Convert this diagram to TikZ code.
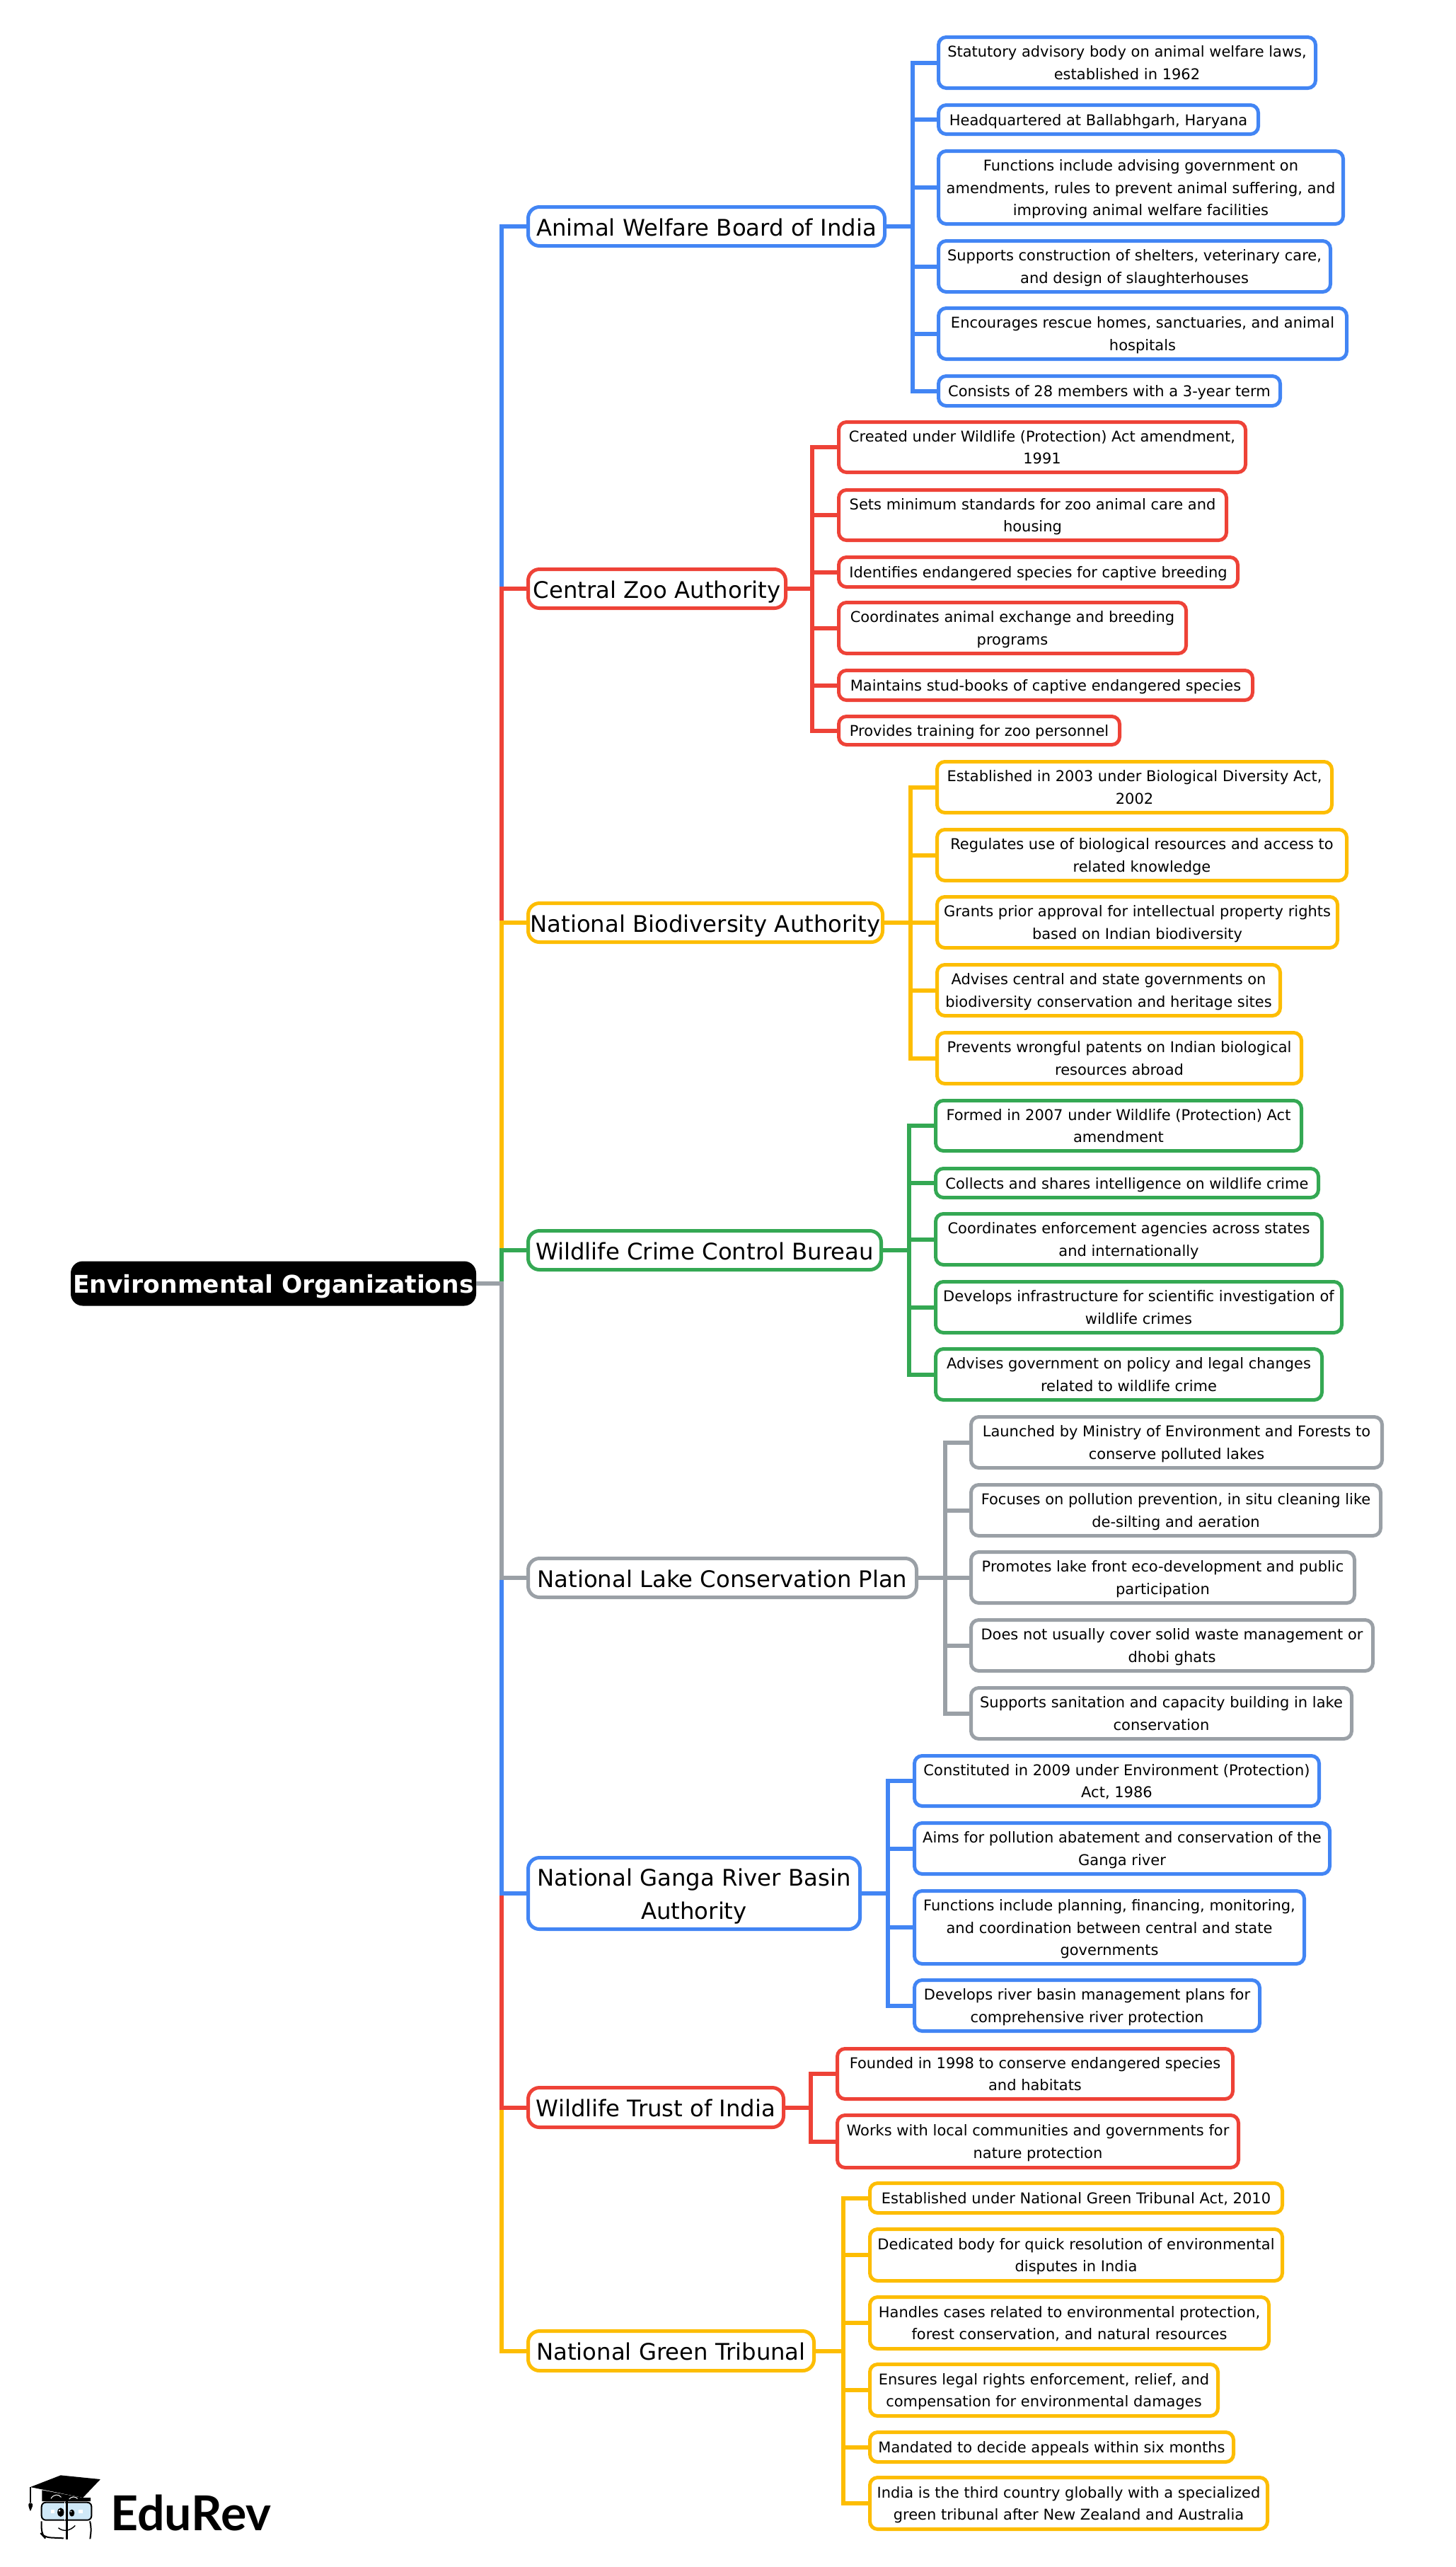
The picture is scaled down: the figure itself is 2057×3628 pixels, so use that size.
\documentclass[tikz,border=0pt]{standalone}
\usepackage{fontspec}
\setmainfont{DejaVu Sans}
\newfontfamily\logofont{Lato}
\definecolor{cblue}{HTML}{4285F4}
\definecolor{cred}{HTML}{EE4237}
\definecolor{cyel}{HTML}{FDBD02}
\definecolor{cgrn}{HTML}{34A853}
\definecolor{cgry}{HTML}{9AA0A6}
\definecolor{clens}{HTML}{CFE8F7}
\tikzset{
  boxbase/.style={rectangle,line width=5pt,fill=white,text=black,align=center,inner sep=0pt,outer sep=0pt},
  leaf/.style={boxbase,rounded corners=11pt,font=\fontsize{21}{31.6}\selectfont\def\ts{\rule{0pt}{20.5pt}}\def\te{\rule[-4.5pt]{0pt}{4.5pt}}},
  branch/.style={boxbase,rounded corners=16pt,font=\fontsize{32.3}{47}\selectfont\def\ts{\rule{0pt}{33pt}}\def\te{\rule[-7pt]{0pt}{7pt}}},
  rootbox/.style={rectangle,fill=black,text=white,align=center,inner sep=0pt,outer sep=0pt,rounded corners=17pt,font=\fontsize{34.5}{40}\selectfont\bfseries},
  wire/.style={line width=6pt,line cap=butt,line join=miter}
}
\newcommand\bx[7]{\node[#1,minimum width={(#5-#3-3)*1pt},minimum height={(#6-#4-3)*1pt}] (#2) at ({(#3+#5)/2},{(#4+#6)/2}) {\ts #7\te};}
\begin{document}
\begin{tikzpicture}[x=1pt,y=-1pt]
\useasboundingbox (0,0) rectangle (2057,3628);
\fill[white] (0,0) rectangle (2057,3628);
% root
\node[rootbox,minimum width=573pt,minimum height=63pt] (root) at (386.5,1814) {\rule{0pt}{34pt}Environmental Organizations\rule[-8pt]{0pt}{8pt}};
\coordinate (trunk) at (708.6,1814);
% branches
\bx{branch,draw=cblue}{A}{745}{291}{1252}{349}{Animal Welfare Board of India}
\bx{branch,draw=cred}{B}{745}{803}{1112}{861}{Central Zoo Authority}
\bx{branch,draw=cyel}{C}{745}{1275}{1249}{1333}{National Biodiversity Authority}
\bx{branch,draw=cgrn}{D}{745}{1738}{1247}{1796}{Wildlife Crime Control Bureau}
\bx{branch,draw=cgry}{E}{745}{2201}{1297}{2259}{National Lake Conservation Plan}
\bx{branch,draw=cblue}{F}{745}{2624}{1217}{2728}{National Ganga River Basin\\Authority}
\bx{branch,draw=cred}{G}{745}{2949}{1109}{3008}{Wildlife Trust of India}
\bx{branch,draw=cyel}{H}{745}{3293}{1152}{3352}{National Green Tribunal}
% leaves A
\bx{leaf,draw=cblue}{a1}{1325}{51}{1861}{126}{Statutory advisory body on animal welfare laws,\\established in 1962}
\bx{leaf,draw=cblue}{a2}{1325}{147}{1780}{191}{Headquartered at Ballabhgarh, Haryana}
\bx{leaf,draw=cblue}{a3}{1325}{212}{1900}{318}{Functions include advising government on\\amendments, rules to prevent animal suffering, and\\improving animal welfare facilities}
\bx{leaf,draw=cblue}{a4}{1325}{339}{1882}{414}{Supports construction of shelters, veterinary care,\\and design of slaughterhouses}
\bx{leaf,draw=cblue}{a5}{1325}{434}{1905}{509}{Encourages rescue homes, sanctuaries, and animal\\hospitals}
\bx{leaf,draw=cblue}{a6}{1325}{530}{1811}{575}{Consists of 28 members with a 3-year term}
% leaves B
\bx{leaf,draw=cred}{b1}{1184}{595}{1762}{669}{Created under Wildlife (Protection) Act amendment,\\1991}
\bx{leaf,draw=cred}{b2}{1184}{691}{1735}{765}{Sets minimum standards for zoo animal care and\\housing}
\bx{leaf,draw=cred}{b3}{1184}{786}{1751}{831}{Identifies endangered species for captive breeding}
\bx{leaf,draw=cred}{b4}{1184}{850}{1678}{925}{Coordinates animal exchange and breeding\\programs}
\bx{leaf,draw=cred}{b5}{1184}{946}{1772}{991}{Maintains stud-books of captive endangered species}
\bx{leaf,draw=cred}{b6}{1184}{1011}{1584}{1054}{Provides training for zoo personnel}
% leaves C
\bx{leaf,draw=cyel}{c1}{1323}{1075}{1884}{1150}{Established in 2003 under Biological Diversity Act,\\2002}
\bx{leaf,draw=cyel}{c2}{1323}{1171}{1905}{1246}{Regulates use of biological resources and access to\\related knowledge}
\bx{leaf,draw=cyel}{c3}{1323}{1266}{1892}{1341}{Grants prior approval for intellectual property rights\\based on Indian biodiversity}
\bx{leaf,draw=cyel}{c4}{1323}{1362}{1811}{1437}{Advises central and state governments on\\biodiversity conservation and heritage sites}
\bx{leaf,draw=cyel}{c5}{1323}{1458}{1841}{1533}{Prevents wrongful patents on Indian biological\\resources abroad}
% leaves D
\bx{leaf,draw=cgrn}{d1}{1321}{1554}{1841}{1628}{Formed in 2007 under Wildlife (Protection) Act\\amendment}
\bx{leaf,draw=cgrn}{d2}{1321}{1650}{1865}{1694}{Collects and shares intelligence on wildlife crime}
\bx{leaf,draw=cgrn}{d3}{1321}{1714}{1870}{1789}{Coordinates enforcement agencies across states\\and internationally}
\bx{leaf,draw=cgrn}{d4}{1321}{1810}{1898}{1885}{Develops infrastructure for scientific investigation of\\wildlife crimes}
\bx{leaf,draw=cgrn}{d5}{1321}{1905}{1870}{1980}{Advises government on policy and legal changes\\related to wildlife crime}
% leaves E
\bx{leaf,draw=cgry}{e1}{1371}{2001}{1955}{2076}{Launched by Ministry of Environment and Forests to\\conserve polluted lakes}
\bx{leaf,draw=cgry}{e2}{1371}{2097}{1953}{2172}{Focuses on pollution prevention, in situ cleaning like\\de-silting and aeration}
\bx{leaf,draw=cgry}{e3}{1371}{2192}{1916}{2267}{Promotes lake front eco-development and public\\participation}
\bx{leaf,draw=cgry}{e4}{1371}{2288}{1942}{2363}{Does not usually cover solid waste management or\\dhobi ghats}
\bx{leaf,draw=cgry}{e5}{1371}{2384}{1912}{2459}{Supports sanitation and capacity building in lake\\conservation}
% leaves F
\bx{leaf,draw=cblue}{f1}{1291}{2480}{1866}{2554}{Constituted in 2009 under Environment (Protection)\\Act, 1986}
\bx{leaf,draw=cblue}{f2}{1291}{2575}{1881}{2650}{Aims for pollution abatement and conservation of the\\Ganga river}
\bx{leaf,draw=cblue}{f3}{1291}{2671}{1845}{2777}{Functions include planning, financing, monitoring,\\and coordination between central and state\\governments}
\bx{leaf,draw=cblue}{f4}{1291}{2797}{1782}{2872}{Develops river basin management plans for\\comprehensive river protection}
% leaves G
\bx{leaf,draw=cred}{g1}{1182}{2894}{1744}{2968}{Founded in 1998 to conserve endangered species\\and habitats}
\bx{leaf,draw=cred}{g2}{1182}{2988}{1752}{3065}{Works with local communities and governments for\\nature protection}
% leaves H
\bx{leaf,draw=cyel}{h1}{1228}{3084}{1814}{3129}{Established under National Green Tribunal Act, 2010}
\bx{leaf,draw=cyel}{h2}{1228}{3149}{1814}{3225}{Dedicated body for quick resolution of environmental\\disputes in India}
\bx{leaf,draw=cyel}{h3}{1228}{3245}{1795}{3321}{Handles cases related to environmental protection,\\forest conservation, and natural resources}
\bx{leaf,draw=cyel}{h4}{1228}{3340}{1723}{3416}{Ensures legal rights enforcement, relief, and\\compensation for environmental damages}
\bx{leaf,draw=cyel}{h5}{1228}{3436}{1745}{3481}{Mandated to decide appeals within six months}
\bx{leaf,draw=cyel}{h6}{1228}{3500}{1793}{3576}{India is the third country globally with a specialized\\green tribunal after New Zealand and Australia}
% connectors root to branches: farthest first, so nearer ones lie on top
\draw[wire,cblue] (root.east) -- (trunk) |- (A.west);
\draw[wire,cred] (root.east) -- (trunk) |- (B.west);
\draw[wire,cyel] (root.east) -- (trunk) |- (C.west);
\draw[wire,cgrn] (root.east) -- (trunk) |- (D.west);
\draw[wire,cyel] (root.east) -- (trunk) |- (H.west);
\draw[wire,cred] (root.east) -- (trunk) |- (G.west);
\draw[wire,cblue] (root.east) -- (trunk) |- (F.west);
\draw[wire,cgry] (root.east) -- (trunk) |- (E.west);
% connectors branches to leaves
\foreach \n in {a1,a2,a3,a4,a5,a6} \draw[wire,cblue] (A.east) -- ++(39,0) |- (\n.west);
\foreach \n in {b1,b2,b3,b4,b5,b6} \draw[wire,cred] (B.east) -- ++(37,0) |- (\n.west);
\foreach \n in {c1,c2,c3,c4,c5} \draw[wire,cyel] (C.east) -- ++(39,0) |- (\n.west);
\foreach \n in {d1,d2,d3,d4,d5} \draw[wire,cgrn] (D.east) -- ++(39,0) |- (\n.west);
\foreach \n in {e1,e2,e3,e4,e5} \draw[wire,cgry] (E.east) -- ++(40,0) |- (\n.west);
\foreach \n in {f1,f2,f3,f4} \draw[wire,cblue] (F.east) -- ++(39,0) |- (\n.west);
\foreach \n in {g1,g2} \draw[wire,cred] (G.east) -- ++(38,0) |- (\n.west);
\foreach \n in {h1,h2,h3,h4,h5,h6} \draw[wire,cyel] (H.east) -- ++(41,0) |- (\n.west);
% logo
\node[anchor=west,inner sep=0pt,font=\logofont\fontsize{68}{68}\selectfont\bfseries] (logotext) at (156,3551) {EduRev};
\begin{scope}[x=0.33pt,y=-0.3333pt,yshift=-3480pt]
  \fill[black] (130,105) -- (260,55) -- (430,72) -- (355,150) -- cycle;
  \fill[black] (180,118) -- (180,165) -- (388,165) -- (388,150) -- (355,150) -- cycle;
  \draw[black,line width=1.2pt] (130,105) -- (130,172);
  \fill[black] (122,178) .. controls (124,170) and (136,170) .. (140,178) .. controls (140,190) and (134,198) .. (130,207) .. controls (126,198) and (122,190) .. (122,178) -- cycle;
  \draw[white,line width=1pt] (218,154) .. controls (230,134) and (252,134) .. (262,148);
  \draw[white,line width=1pt] (296,156) .. controls (306,144) and (322,144) .. (332,154);
  \draw[black,fill=clens,line width=2pt,rounded corners=6pt] (178,170) rectangle (392,245);
  \draw[black,line width=2pt,rounded corners=8pt] (272,322) -- (190,318) -- (178,305) -- (178,250);
  \draw[black,line width=2pt,rounded corners=8pt] (385,250) -- (392,275) -- (386,325);
  \draw[black,line width=2.6pt] (287,165) -- (287,326);
  \draw[white,line width=0.8pt] (277,168) -- (277,245);
  \fill[black] (260,212) ellipse [x radius=14,y radius=19];
  \fill[black] (308,215) ellipse [x radius=11,y radius=15];
  \fill[white] (255,205) circle [radius=4];
  \fill[white] (304,209) circle [radius=3];
  \fill[white] (218,202) rectangle (233,216);
  \fill[white] (337,202) rectangle (354,216);
  \draw[black,line width=1.4pt] (250,278) .. controls (270,295) and (300,292) .. (322,268);
\end{scope}
\end{tikzpicture}
\end{document}
